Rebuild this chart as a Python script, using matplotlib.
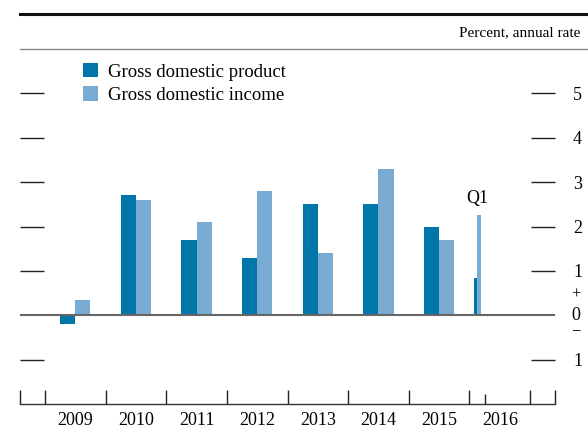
import numpy as np
import matplotlib
matplotlib.use("Agg")
import matplotlib.pyplot as plt
from matplotlib.lines import Line2D
import matplotlib.transforms as mtransforms

plt.rcParams['font.family'] = ['Liberation Serif', 'DejaVu Serif']

# data (percent, annual rate)
years = ['2009', '2010', '2011', '2012', '2013', '2014', '2015']
gdp = [-0.2, 2.7, 1.7, 1.3, 2.5, 2.5, 2.0]
gdi = [0.35, 2.6, 2.1, 2.8, 1.4, 3.3, 1.7]
q1_label = 'Q1'
gdp_q1 = 0.85
gdi_q1 = 2.25
year_labels = ['2009', '2010', '2011', '2012', '2013', '2014', '2015', '2016']
y_ticks = [-1, 1, 2, 3, 4, 5]

c_gdp = '#0076a9'
c_gdi = '#78aad2'

fig = plt.figure(figsize=(5.88, 4.30), dpi=100)
ax = fig.add_axes([20/588, 1 - 404/430, 535/588, 355/430])

x = np.arange(len(years)) + 0.5
w = 0.25
ax.bar(x - w/2, gdp, width=w, color=c_gdp, label='Gross domestic product', zorder=3)
ax.bar(x + w/2, gdi, width=w, color=c_gdi, label='Gross domestic income', zorder=3)

# 2016 Q1 thin bars
xq = 7 + 0.125
wq = 0.058
ax.bar(xq - wq/2, gdp_q1, width=wq, color=c_gdp, zorder=3)
ax.bar(xq + wq/2, gdi_q1, width=wq, color=c_gdi, zorder=3)
ax.text(xq, gdi_q1 + 0.2, q1_label, ha='center', va='bottom', fontsize=13)

ax.set_xlim(-0.41, 8.41)
ax.set_ylim(-2, 6)

for s in ['top', 'left', 'right']:
    ax.spines[s].set_visible(False)
ax.spines['bottom'].set_color('#333333')
ax.spines['bottom'].set_linewidth(1.0)

ax.axhline(0, color='#666666', lw=1.5, zorder=4)

# y ticks: inward dashes on both sides, labels on the right
ax.set_yticks(y_ticks)
ax.set_yticklabels(['1' if v < 0 else str(v) for v in y_ticks])
ax.tick_params(axis='y', which='major', direction='in', length=17, width=1.0,
               color='#222222', left=True, right=True, labelleft=False,
               labelright=True, pad=13, labelsize=13)

# zero label with +/- signs
tr = mtransforms.blended_transform_factory(ax.transAxes, ax.transData)
xl = 1 + 16 / 535
ax.text(xl, 0.0, '0', transform=tr, ha='left', va='center', fontsize=13)
ax.text(xl, 0.47, '+', transform=tr, ha='left', va='center', fontsize=12)
ax.text(xl, -0.36, '\u2212', transform=tr, ha='left', va='center', fontsize=12)

# x ticks at year boundaries, labels at centers
ax.set_xticks([-0.41] + list(range(0, 9)) + [8.41])
ax.set_xticklabels([])
ax.set_xticks(np.arange(8) + 0.5, minor=True)
ax.set_xticklabels(year_labels, minor=True)
ax.tick_params(axis='x', which='major', direction='in', length=10, width=1.0, color='#222222')
ax.tick_params(axis='x', which='minor', length=0, pad=6, labelsize=13)
ax.vlines(7.25, -2, -2 + 0.22, color='#222222', lw=1.0)

leg = ax.legend(loc='upper left', bbox_to_anchor=(63/535, 1 - 14/355), frameon=False,
                fontsize=13.5, handlelength=0.8, handleheight=0.8,
                handletextpad=0.55, labelspacing=0.3, borderaxespad=0,
                borderpad=0)

# header rules and unit label
fig.add_artist(Line2D([20/588, 1], [1 - 14/430, 1 - 14/430], color='#111111', lw=2.2))
fig.add_artist(Line2D([20/588, 1], [1 - 49/430, 1 - 49/430], color='#888888', lw=1.0))
fig.text(580/588, 1 - 33/430, 'Percent, annual rate', ha='right', va='center', fontsize=11)

fig.savefig('out.png', dpi=100)
